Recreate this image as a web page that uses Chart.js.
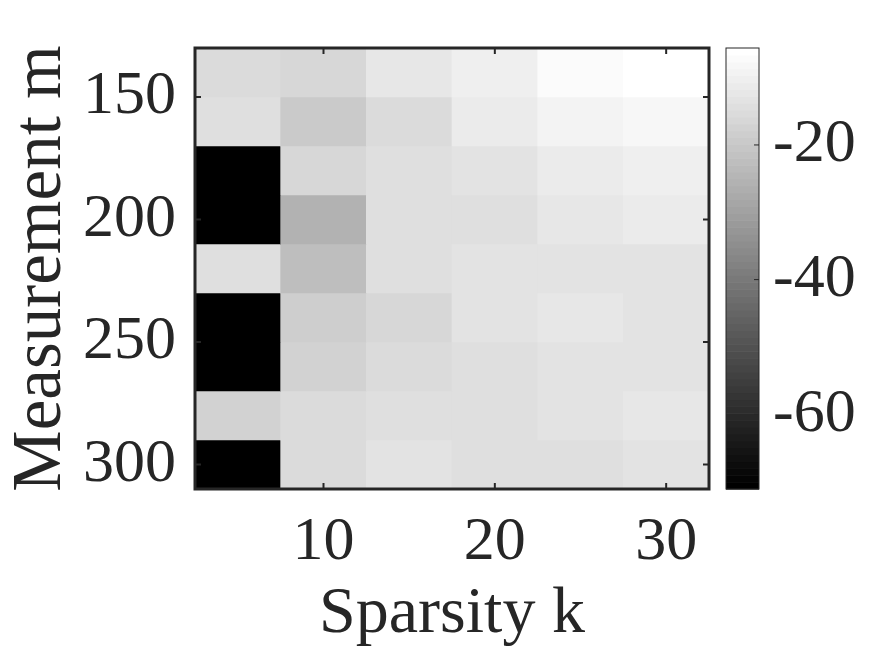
<!DOCTYPE html>
<html>
<head>
<meta charset="utf-8">
<script src="https://cdn.jsdelivr.net/npm/chart.js@4.4.0/dist/chart.umd.min.js"></script>
<style>
  html, body { margin: 0; padding: 0; background: #fff; }
  #wrap { width: 875px; height: 656px; position: relative; }
</style>
</head>
<body>
<div id="wrap"><canvas id="heat"></canvas></div>
<script>
// grid of the image
const sparsityK = [5, 10, 15, 20, 25, 30];
const measurementM = [140, 160, 180, 200, 220, 240, 260, 280, 300];
const xTicks = [10, 20, 30];
const yTicks = [150, 200, 250, 300];
const cbTicks = [-60, -40, -20];

// one row per m (top to bottom), one value per k
const row140 = [-15.4, -16.6, -12.3, -10.2, -7.4, -5.6];
const row160 = [-14.1, -19.5, -15.4, -11.5, -9.2, -8.4];
const row180 = [-71.1, -16.6, -14.6, -13.6, -11.5, -10.7];
const row200 = [-71.1, -25.1, -14.3, -14.6, -12.3, -11.5];
const row220 = [-14.1, -22.0, -14.3, -13.6, -13.6, -12.8];
const row240 = [-71.1, -18.7, -16.4, -13.6, -12.3, -13.0];
const row260 = [-71.1, -17.4, -15.4, -14.3, -13.6, -12.8];
const row280 = [-16.9, -15.1, -14.6, -14.3, -13.3, -12.3];
const row300 = [-71.1, -15.4, -13.3, -14.3, -14.3, -13.6];
const rows = [row140, row160, row180, row200, row220, row240, row260, row280, row300];

const cMin = -71.1, cMax = -5.6;
const levels = 64;
const textColor = '#262626';
const fontFamily = "'Liberation Serif', 'Times New Roman', serif";
const tickFont = { family: fontFamily, size: 62 };

// matlab style gray colormap with 64 steps
const grayOf = (v) => {
    let idx = Math.floor((v - cMin) / (cMax - cMin) * levels);
    idx = Math.max(0, Math.min(levels - 1, idx));
    const g = Math.round(idx / (levels - 1) * 255);
    return `rgb(${g},${g},${g})`;
};

const datasets = measurementM.map((m, r) => ({
    label: 'm = ' + m,
    data: sparsityK.map((k) => ({ x: k, y: [m - 10, m + 10] })),
    backgroundColor: rows[r].map(grayOf),
    borderWidth: 0,
    grouped: false,
    barPercentage: 1,
    categoryPercentage: 1
}));

const line = (ctx, x0, y0, x1, y1) => {
    ctx.beginPath();
    ctx.moveTo(x0, y0);
    ctx.lineTo(x1, y1);
    ctx.stroke();
};

// no extra room for half labels at the axis ends
const noPad = (s) => {
    s.paddingTop = 0;
    s.paddingBottom = 0;
    s.paddingLeft = 0;
    s.paddingRight = 0;
};

// box, inner ticks and the colorbar
const framePlugin = {
    id: 'frame',
    afterDatasetsDraw(chart) {
        const { ctx, chartArea: a, scales } = chart;
        ctx.save();
        ctx.strokeStyle = textColor;
        ctx.lineWidth = 2;
        xTicks.forEach(v => {
            const px = scales.x.getPixelForValue(v);
            line(ctx, px, a.top, px, a.top + 6);
            line(ctx, px, a.bottom, px, a.bottom - 6);
        });
        yTicks.forEach(v => {
            const py = scales.y.getPixelForValue(v);
            line(ctx, a.left, py, a.left + 6, py);
            line(ctx, a.right, py, a.right - 6, py);
        });
        ctx.lineWidth = 3;
        ctx.strokeRect(a.left, a.top, a.width, a.height);

        const cb = scales.cb;
        const cbLeft = a.right + 17;
        const cbW = 33;
        for (let i = 0; i < levels; i++) {
            const v0 = cMin + i / levels * (cMax - cMin);
            const v1 = cMin + (i + 1) / levels * (cMax - cMin);
            const y0 = cb.getPixelForValue(v0);
            const y1 = cb.getPixelForValue(v1);
            const g = Math.round(i / (levels - 1) * 255);
            ctx.fillStyle = `rgb(${g},${g},${g})`;
            ctx.fillRect(cbLeft, y1, cbW, y0 - y1 + 0.6);
        }
        ctx.lineWidth = 1;
        ctx.strokeRect(cbLeft, a.top, cbW, a.height);
        cbTicks.forEach(v => {
            const py = cb.getPixelForValue(v);
            line(ctx, cbLeft + cbW, py, cbLeft + cbW - 5, py);
        });
        ctx.restore();
    }
};

new Chart(document.getElementById('heat'), {
    type: 'bar',
    data: { datasets },
    options: {
        responsive: true,
        maintainAspectRatio: false,
        animation: false,
        layout: { padding: { top: 48, left: 0, right: 0, bottom: 0 } },
        plugins: { legend: { display: false }, tooltip: { enabled: false } },
        scales: {
            x: {
                type: 'linear',
                position: 'bottom',
                min: 2.5,
                max: 32.5,
                offset: false,
                grid: { display: false, drawTicks: false },
                border: { display: false },
                afterBuildTicks: (s) => { s.ticks = xTicks.map(v => ({ value: v })); },
                afterFit: (s) => { s.height = 167; noPad(s); },
                ticks: { font: tickFont, color: textColor, padding: 17, maxRotation: 0 },
                title: { display: true, text: 'Sparsity k', font: { family: fontFamily, size: 66 }, color: textColor, padding: { top: 0, bottom: 2 } }
            },
            y: {
                type: 'linear',
                position: 'left',
                reverse: true,
                min: 130,
                max: 310,
                beginAtZero: false,
                grid: { display: false, drawTicks: false },
                border: { display: false },
                afterBuildTicks: (s) => { s.ticks = yTicks.map(v => ({ value: v })); },
                afterFit: (s) => { s.width = 195; noPad(s); },
                ticks: { font: tickFont, color: textColor, padding: 19 },
                title: { display: true, text: 'Measurement m', font: { family: fontFamily, size: 69 }, color: textColor, padding: { top: 0, bottom: 0 } }
            },
            cb: {
                type: 'linear',
                axis: 'y',
                position: 'right',
                min: cMin,
                max: cMax,
                grid: { display: false, drawTicks: false },
                border: { display: false },
                afterBuildTicks: (s) => { s.ticks = cbTicks.map(v => ({ value: v })); },
                afterFit: (s) => { s.width = 166; noPad(s); },
                ticks: { font: tickFont, color: textColor, padding: 64 }
            }
        }
    },
    plugins: [framePlugin]
});
</script>
</body>
</html>
